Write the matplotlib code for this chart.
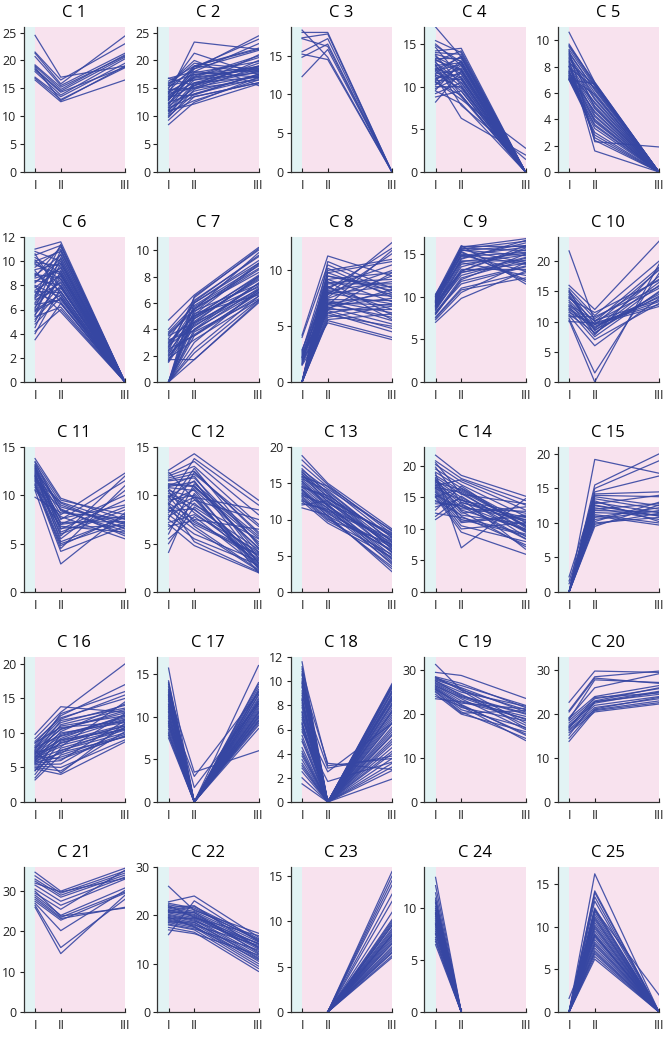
import numpy as np
import matplotlib
matplotlib.use("Agg")
import matplotlib.pyplot as plt

plt.rcParams['font.family'] = ['Open Sans', 'DejaVu Sans']

# stage positions on the x axis
stage_labels = ['I', 'II', 'III']
stage_x = [1, 2, 4.5]
nan = np.nan

# each tuple is one line: value at I, II, III
C1 = [(24.5, 17.0, 19.0), (21.5, 16.5, 23.0), (21.3, 15.8, 24.4), (20.7, 15.5, 21.3), (19.2, 15.2, 20.8),
      (19.0, 14.8, 21.0), (18.5, 14.5, 20.6), (18.3, 14.3, 18.8), (18.0, 13.8, 20.3), (17.0, 13.5, 19.5),
      (16.8, 13.0, 18.7), (16.5, 12.6, 16.5), (18.8, 12.8, 19.0)]
C2 = [(8.5, 12.5, 17.0), (9.3, 13.5, 16.0), (10.0, 14.0, 17.5), (10.5, 15.5, 18.0), (10.8, 12.8, 16.5),
      (11.0, 16.0, 19.0), (11.2, 14.5, 17.2), (11.5, 17.0, 18.5), (11.8, 15.0, 20.0), (12.0, 18.5, 21.8),
      (12.2, 16.5, 17.8), (12.5, 14.0, 16.8), (12.8, 19.0, 22.0), (13.0, 17.5, 18.2), (13.2, 15.5, 19.5),
      (13.5, 18.0, 23.0), (13.8, 16.0, 17.0), (14.0, 23.3, 22.0), (14.2, 17.0, 20.5), (14.5, 19.0, 18.0),
      (14.8, 15.0, 16.5), (15.0, 21.3, 17.5), (15.2, 18.5, 24.4), (15.5, 16.5, 19.0), (15.8, 20.0, 15.5),
      (16.0, 17.5, 18.8), (16.3, 19.0, 22.2), (16.8, 18.0, 17.0), (16.8, 15.5, 21.0), (11.5, 13.5, 16.0),
      (10.2, 15.8, 18.3), (12.3, 17.8, 19.8), (13.6, 13.8, 17.6), (14.4, 16.8, 18.6), (9.8, 14.8, 18.9),
      (12.9, 18.8, 23.8), (11.0, 12.2, 15.8), (13.3, 17.2, 20.8), (15.6, 19.5, 18.4), (14.1, 15.2, 17.3)]
C3 = [(18.3, 14.8, 0), (18.0, 18.0, 0), (17.3, 17.8, 0), (17.2, 16.2, 0), (15.5, 17.2, 0),
      (15.2, 14.5, 0), (14.8, 16.5, 0), (12.3, 15.8, 0)]
C4 = [(17.0, 13.5, 0), (15.4, 14.0, 0), (15.0, 12.5, 0), (14.2, 14.5, 0), (14.0, 13.8, 0), (13.8, 13.0, 0),
      (13.5, 12.0, 0), (13.2, 11.5, 0), (13.0, 14.2, 0), (12.8, 10.5, 0), (12.5, 12.8, 0), (12.2, 11.0, 0),
      (12.0, 13.5, 0), (11.8, 9.5, 0), (11.5, 12.0, 0), (11.3, 10.8, 0), (11.0, 11.5, 0), (10.8, 13.0, 0),
      (10.5, 9.0, 0), (10.3, 12.5, 0), (10.0, 10.0, 0), (9.8, 11.2, 0), (9.5, 8.0, 0), (9.2, 10.5, 0),
      (8.8, 9.5, 0), (8.2, 11.8, 0), (11.2, 6.3, 2.0), (10.6, 8.5, 2.8), (12.6, 7.8, 1.5), (13.7, 10.2, 0),
      (12.9, 9.0, 0), (11.6, 13.6, 0), (10.9, 12.2, 0), (14.6, 11.0, 0), (13.3, 13.3, 0), (12.4, 10.0, 0),
      (11.9, 12.6, 0), (10.2, 11.8, 0), (9.6, 12.9, 0), (13.1, 11.9, 0), (12.1, 8.8, 0), (11.4, 9.8, 0),
      (14.8, 12.9, 0), (10.7, 10.9, 0)]
C5 = [(10.6, 6.8, 0), (9.7, 6.7, 0), (9.5, 6.6, 0), (9.3, 6.5, 0), (9.0, 6.3, 0), (8.8, 6.0, 0),
      (8.6, 5.8, 0), (8.4, 5.5, 0), (8.2, 5.2, 0), (8.0, 5.0, 0), (7.8, 4.8, 0), (7.6, 4.5, 0),
      (7.5, 4.2, 0), (7.3, 4.0, 0), (7.2, 3.8, 0), (7.1, 3.5, 0), (7.0, 3.3, 0), (7.0, 3.0, 0),
      (7.4, 2.8, 0), (7.7, 2.6, 0), (8.1, 2.4, 0), (9.2, 2.3, 1.9), (8.5, 1.6, 0), (9.6, 6.8, 0),
      (7.0, 6.7, 0), (8.3, 6.6, 0), (7.9, 6.4, 0), (9.1, 6.2, 0), (7.2, 5.9, 0), (8.7, 5.6, 0),
      (7.5, 5.3, 0), (8.9, 4.9, 0), (7.3, 4.6, 0), (8.0, 4.3, 0), (7.6, 3.9, 0), (7.1, 3.6, 0)]
C6 = [(11.0, 11.6, 0), (10.8, 10.0, 0), (10.5, 11.3, 0), (10.3, 9.0, 0), (10.0, 10.8, 0), (9.8, 8.5, 0),
      (9.5, 11.0, 0), (9.3, 9.8, 0), (9.0, 7.5, 0), (8.8, 10.5, 0), (8.6, 9.2, 0), (8.4, 8.0, 0),
      (8.2, 10.2, 0), (8.0, 7.0, 0), (7.8, 9.5, 0), (7.6, 8.8, 0), (7.4, 6.5, 0), (7.2, 10.0, 0),
      (7.0, 8.2, 0), (6.8, 7.8, 0), (6.6, 9.0, 0), (6.4, 6.8, 0), (6.2, 8.5, 0), (6.0, 7.2, 0),
      (5.8, 9.8, 0), (5.6, 8.0, 0), (5.4, 6.2, 0), (5.2, 7.5, 0), (5.0, 8.8, 0), (4.8, 7.0, 0),
      (4.5, 9.2, 0), (4.2, 6.0, 0), (4.0, 7.8, 0), (3.5, 6.5, 0), (10.6, 7.2, 0), (9.2, 6.6, 0),
      (8.7, 11.2, 0), (7.9, 5.8, 0), (7.1, 11.4, 0), (6.9, 10.6, 0), (6.1, 10.9, 0), (5.5, 10.3, 0),
      (9.7, 8.9, 0), (8.3, 9.4, 0), (7.5, 7.4, 0), (6.5, 8.3, 0), (5.9, 6.9, 0), (9.9, 9.6, 0),
      (10.1, 7.9, 0), (8.9, 8.6, 0)]
C7 = [(0, 1.7, 6.0), (0, 2.5, 6.5), (0, 3.0, 7.0), (0, 3.5, 6.8), (0, 4.0, 7.5), (0, 4.5, 8.0),
      (0, 5.0, 7.2), (0, 5.5, 8.5), (0, 6.0, 9.0), (0, 3.8, 6.3), (0, 4.8, 7.8), (0, 5.2, 6.6),
      (0, 2.2, 6.2), (0, 6.5, 10.0), (4.7, 6.6, 10.2), (4.0, 6.2, 9.5), (3.8, 5.8, 8.8), (3.7, 5.5, 9.8),
      (3.5, 4.5, 7.0), (3.3, 6.0, 9.2), (3.0, 5.0, 8.0), (2.8, 4.2, 7.5), (2.6, 5.6, 8.3), (2.5, 3.5, 6.5),
      (2.3, 4.8, 7.7), (2.1, 5.3, 9.0), (2.0, 4.0, 6.8), (1.8, 3.2, 6.2), (1.6, 5.7, 8.6), (1.5, 4.4, 7.3),
      (1.7, 1.7, 6.1), (2.4, 6.4, 10.1), (3.2, 3.9, 7.1), (2.9, 5.1, 8.9), (1.9, 4.6, 7.9), (3.6, 5.4, 7.4),
      (2.2, 3.6, 6.7), (1.6, 4.9, 8.1), (2.7, 6.1, 9.6), (3.1, 4.3, 6.9)]
C8 = [(0, 5.5, 4.0), (0, 6.0, 5.0), (0, 6.5, 6.5), (0, 7.0, 8.0), (0, 7.5, 9.5), (0, 8.0, 7.0),
      (0, 8.5, 10.5), (0, 9.0, 6.0), (0, 9.5, 8.5), (0, 10.0, 11.0), (0, 7.2, 5.5), (0, 6.8, 7.5),
      (0, 8.2, 9.0), (0, 5.8, 6.8), (0, 9.8, 7.8), (0, 7.8, 12.5), (0, 6.2, 4.5), (0, 8.8, 8.8),
      (4.2, 11.3, 9.5), (4.0, 10.5, 8.0), (2.8, 9.2, 7.2), (2.6, 8.0, 10.0), (2.5, 7.0, 5.8), (2.3, 6.5, 9.8),
      (2.2, 8.5, 6.5), (2.0, 7.6, 11.5), (1.8, 6.2, 7.0), (1.6, 9.5, 8.2), (1.5, 5.3, 3.8), (1.7, 7.3, 6.2),
      (2.1, 8.9, 9.2), (2.4, 6.7, 5.2), (2.7, 10.2, 7.6), (1.9, 7.9, 8.6), (2.9, 8.3, 12.0), (1.6, 6.4, 4.8),
      (2.2, 9.8, 10.8), (0, 7.4, 7.3), (0, 8.6, 5.6), (0, 6.6, 8.3), (0, 9.2, 9.8), (0, 7.1, 6.9),
      (0, 8.1, 7.7), (0, 5.6, 6.1), (0, 10.8, 8.4), (0, 6.9, 11.8)]
C9 = [(7.0, 9.8, 13.0), (7.3, 10.5, 14.0), (7.6, 11.0, 12.8), (7.9, 12.0, 15.0), (8.2, 11.5, 13.5),
      (8.5, 13.0, 16.0), (8.7, 12.5, 14.5), (8.9, 14.0, 12.5), (9.1, 13.5, 15.5), (9.3, 14.5, 16.3),
      (9.5, 15.0, 13.8), (9.6, 15.5, 14.8), (9.8, 15.8, 16.8), (10.0, 14.8, 15.8), (10.2, 16.0, 11.5),
      (10.3, 15.2, 12.0), (9.4, 14.2, 14.2), (9.0, 15.6, 16.5), (8.8, 13.2, 13.2), (9.7, 14.7, 15.2),
      (8.4, 12.8, 14.6), (9.2, 15.9, 15.9), (8.0, 11.8, 13.6), (9.9, 15.4, 16.0), (8.6, 13.8, 14.9),
      (9.5, 14.9, 13.0), (10.1, 15.7, 15.4), (7.5, 10.8, 12.2), (9.3, 13.0, 15.7), (8.1, 12.2, 14.3),
      (9.6, 15.3, 11.8), (8.9, 14.4, 16.6), (9.0, 12.9, 13.9), (10.0, 14.1, 15.1), (9.4, 15.5, 14.0)]
C10 = [(21.7, 10.0, 19.0), (16.0, 12.0, 23.3), (15.5, 11.0, 20.0), (15.0, 10.5, 17.0), (14.8, 9.5, 18.5),
       (14.5, 8.5, 16.5), (14.0, 10.0, 15.5), (13.5, 9.0, 14.5), (13.2, 8.0, 16.0), (12.8, 10.2, 13.5),
       (12.5, 7.5, 15.0), (12.2, 9.2, 14.0), (12.0, 8.8, 17.5), (11.8, 7.0, 13.0), (11.5, 9.5, 12.5),
       (11.2, 8.2, 14.8), (11.0, 6.0, 13.8), (10.8, 10.8, 15.8), (10.5, 1.5, 18.0), (10.2, 0, 19.5),
       (10.0, 9.8, 12.8), (13.8, 11.5, 16.8), (14.2, 8.6, 14.2), (12.6, 9.6, 13.3), (15.2, 7.8, 18.8)]
C11 = [(13.8, 9.7, 7.5), (13.5, 9.5, 8.0), (13.2, 9.2, 6.5), (13.0, 8.8, 7.0), (12.8, 8.5, 6.0),
       (12.6, 8.0, 12.3), (12.4, 7.5, 11.5), (12.2, 7.0, 7.8), (12.0, 6.5, 9.5), (11.8, 6.0, 8.5),
       (11.6, 5.5, 10.5), (11.4, 5.0, 7.2), (11.2, 4.5, 11.0), (11.0, 4.2, 6.8), (10.8, 7.8, 5.5),
       (10.6, 6.8, 6.2), (10.5, 2.9, 8.2), (9.8, 8.2, 7.6), (12.5, 9.0, 6.6), (11.9, 7.2, 7.3),
       (12.9, 6.2, 8.8), (12.3, 5.2, 7.7), (11.5, 8.6, 5.8), (13.1, 7.0, 10.0), (12.7, 6.6, 6.9),
       (11.7, 9.3, 7.1), (12.1, 5.8, 12.0), (13.4, 8.4, 6.3), (11.1, 4.8, 7.9), (12.0, 7.6, 9.0)]
C12 = [(12.6, 14.3, 9.5), (12.2, 13.5, 8.0), (12.0, 13.0, 7.0), (11.8, 12.5, 6.0), (11.5, 11.8, 5.0),
       (11.2, 11.0, 4.5), (11.0, 12.0, 3.5), (10.8, 10.5, 2.5), (10.5, 9.8, 8.5), (10.2, 9.0, 5.5),
       (10.0, 8.5, 4.0), (9.8, 11.5, 3.0), (9.5, 10.0, 2.0), (9.2, 7.5, 6.5), (9.0, 12.8, 4.8),
       (8.8, 7.0, 3.8), (8.5, 6.5, 2.2), (8.2, 10.8, 5.2), (8.0, 6.0, 3.2), (7.8, 9.5, 7.5),
       (7.5, 5.5, 2.8), (7.2, 8.0, 4.2), (7.0, 4.8, 2.0), (6.5, 9.2, 3.6), (6.0, 11.2, 5.8),
       (5.5, 7.8, 2.6), (5.0, 8.8, 4.4), (4.1, 10.2, 3.0), (11.6, 12.2, 6.8), (10.7, 8.2, 3.4),
       (9.6, 13.8, 9.0), (9.3, 10.6, 4.6), (8.6, 9.8, 2.4), (10.4, 7.2, 3.9), (11.1, 10.9, 5.6),
       (8.4, 8.6, 2.9), (9.9, 6.8, 2.3), (7.6, 12.4, 6.2), (10.9, 11.4, 4.1), (6.8, 7.4, 3.3),
       (12.4, 9.6, 2.7), (9.1, 5.2, 2.1)]
C13 = [(18.8, 15.0, 8.7), (18.2, 14.8, 8.0), (17.5, 14.5, 7.5), (16.8, 14.2, 8.5), (16.5, 13.8, 7.0),
       (16.2, 13.5, 6.5), (16.0, 13.2, 6.0), (15.8, 12.8, 7.8), (15.5, 12.5, 5.5), (15.2, 12.2, 8.2),
       (15.0, 12.0, 5.0), (14.8, 11.8, 6.8), (14.5, 11.5, 4.5), (14.2, 11.2, 7.2), (14.0, 11.0, 4.0),
       (13.8, 10.8, 6.2), (13.5, 10.5, 5.8), (13.2, 10.2, 3.5), (13.0, 10.0, 6.6), (12.8, 9.8, 5.2),
       (12.5, 9.5, 4.8), (12.2, 11.4, 7.4), (12.0, 12.6, 6.4), (11.6, 10.6, 2.8), (16.6, 13.0, 5.4),
       (15.6, 14.0, 6.9), (14.6, 12.9, 7.9), (13.6, 11.6, 3.8), (17.0, 13.6, 5.9), (15.3, 11.9, 4.2),
       (14.4, 13.3, 7.6), (12.6, 11.1, 5.6), (16.3, 12.4, 6.3), (13.3, 12.1, 4.6), (15.9, 14.6, 8.4),
       (14.1, 10.4, 3.2)]
C14 = [(21.7, 18.5, 15.2), (20.8, 18.0, 14.5), (20.2, 17.5, 13.0), (19.5, 17.0, 12.0), (19.0, 16.5, 11.0),
       (18.5, 16.0, 10.5), (18.2, 15.5, 14.0), (17.8, 15.0, 9.5), (17.5, 14.5, 12.5), (17.2, 14.0, 8.5),
       (17.0, 13.5, 11.5), (16.8, 13.0, 10.0), (16.5, 12.5, 13.5), (16.2, 12.0, 7.5), (16.0, 11.5, 9.0),
       (15.8, 11.0, 12.0), (15.5, 10.5, 8.0), (15.2, 10.0, 11.0), (15.0, 9.5, 6.0), (14.5, 12.2, 10.8),
       (14.0, 13.8, 9.8), (13.5, 14.8, 6.8), (13.0, 16.8, 10.2), (12.5, 11.8, 9.2), (12.0, 15.2, 8.8),
       (11.5, 14.2, 11.8), (18.8, 7.0, 14.8), (17.4, 16.2, 10.6), (16.6, 15.8, 9.6), (15.4, 13.2, 12.8),
       (19.8, 14.2, 11.2), (18.0, 12.8, 7.2), (16.9, 17.8, 13.8), (15.1, 16.4, 10.4), (14.3, 13.6, 8.4),
       (20.5, 15.6, 9.9), (17.7, 11.2, 12.2), (16.4, 14.6, 11.4)]
C15 = [(0, 19.2, 17.2), (0, 15.5, 20.0), (0, 15.0, 19.0), (0, 14.5, 16.8), (0, 14.2, 14.5),
       (0, 13.8, 12.5), (0, 13.5, 12.0), (0, 13.0, 11.5), (0, 12.8, 14.0), (0, 12.5, 11.0),
       (0, 12.2, 10.5), (0, 12.0, 12.8), (0, 11.5, 11.2), (0, 11.2, 10.0), (0, 11.0, 9.7),
       (0, 10.8, 12.2), (0, 10.5, 11.8), (0, 10.0, 10.8), (0, 9.8, 11.4), (0, 9.5, 12.6),
       (2.2, 14.0, 13.8), (1.6, 12.6, 11.0), (1.2, 10.2, 13.0), (0, 13.2, 10.2), (0, 11.8, 11.6)]
C16 = [(9.8, 13.8, 13.0), (9.2, 13.0, 20.0), (8.5, 12.5, 17.0), (8.2, 12.0, 15.5), (8.0, 11.5, 14.0),
       (7.8, 11.0, 12.5), (7.5, 10.5, 13.2), (7.2, 10.0, 11.5), (7.0, 9.5, 12.0), (6.8, 9.0, 10.5),
       (6.6, 8.5, 11.0), (6.4, 8.0, 14.5), (6.2, 7.5, 10.0), (6.0, 7.0, 12.8), (5.8, 6.5, 9.5),
       (5.6, 6.0, 11.8), (5.4, 5.5, 10.8), (5.2, 5.0, 9.0), (5.0, 4.5, 10.2), (4.8, 4.0, 8.7),
       (4.5, 9.8, 12.2), (4.0, 8.8, 11.2), (3.5, 7.8, 10.4), (3.2, 6.8, 9.8), (7.6, 12.8, 16.0),
       (6.9, 11.8, 13.6), (7.4, 4.2, 11.4), (6.5, 9.2, 12.6), (5.9, 10.2, 14.2), (7.1, 8.2, 10.6),
       (8.6, 10.8, 11.6), (5.5, 7.2, 9.4), (6.3, 11.2, 13.4), (7.9, 9.6, 12.4), (5.7, 8.6, 11.0),
       (6.7, 6.2, 9.6), (8.8, 12.2, 15.0), (4.6, 7.4, 10.8), (7.3, 10.6, 12.9), (6.1, 9.0, 11.9)]
C17 = [(15.7, 0, 16.0), (14.2, 0, 14.0), (13.8, 0, 13.5), (13.2, 0, 13.0), (12.8, 0, 12.5), (12.5, 0, 12.0),
       (12.2, 0, 11.5), (12.0, 0, 11.0), (11.5, 0, 10.5), (11.2, 0, 10.0), (11.0, 0, 9.5), (10.5, 0, 9.0),
       (10.2, 0, 8.6), (10.0, 0, 10.2), (9.5, 0, 11.2), (9.2, 0, 12.2), (9.0, 0, 9.8), (8.5, 0, 13.8),
       (8.2, 0, 10.8), (8.0, 0, 11.8), (7.8, 0, 9.2), (7.5, 0, 10.4), (13.0, 3.5, 6.0), (10.8, 3.0, 12.8),
       (12.6, 1.7, 11.6), (9.8, 0, 9.6), (11.8, 0, 12.6), (14.0, 0, 10.6), (8.8, 0, 13.2), (10.6, 0, 11.4),
       (12.4, 0, 9.4), (9.4, 0, 10.0), (11.4, 0, 12.9), (13.5, 0, 11.8)]
C18 = [(11.6, 0, 9.8), (11.2, 0, 9.6), (10.8, 0, 9.4), (10.5, 0, 9.2), (10.2, 0, 9.0), (9.8, 0, 8.8),
       (9.5, 0, 8.5), (9.2, 0, 8.2), (9.0, 0, 8.0), (8.5, 0, 7.8), (8.2, 0, 7.5), (8.0, 0, 7.2),
       (7.5, 0, 7.0), (7.2, 0, 6.8), (7.0, 0, 6.5), (6.5, 0, 6.2), (6.2, 0, 6.0), (6.0, 0, 5.5),
       (5.5, 0, 5.2), (5.0, 0, 5.0), (4.5, 0, 4.5), (4.0, 0, 4.2), (3.8, 0, 4.0), (3.5, 0, 3.6),
       (3.0, 0, 3.2), (2.5, 0, 2.9), (2.0, 0, 2.6), (1.5, 0, 1.9), (10.0, 3.2, 2.7), (8.8, 2.8, 3.8),
       (6.8, 2.5, 6.5), (5.8, 1.7, 3.3), (11.0, 3.0, 3.6), (10.6, 0, 9.7), (9.6, 0, 8.6), (8.6, 0, 8.4),
       (7.8, 0, 7.6), (6.6, 0, 7.4), (5.2, 0, 6.6), (4.2, 0, 5.8), (3.2, 0, 4.8), (9.9, 0, 9.5),
       (8.4, 0, 9.1), (7.4, 0, 8.7), (6.4, 0, 8.1), (2.8, 0, 5.6)]
C19 = [(31.3, 25.5, 21.0), (29.5, 28.8, 23.6), (28.5, 27.0, 21.5), (28.2, 26.5, 22.0), (28.0, 26.0, 20.5),
       (27.8, 25.8, 18.0), (27.5, 25.0, 21.8), (27.2, 24.5, 17.5), (27.0, 24.0, 20.0), (26.8, 23.5, 16.5),
       (26.5, 23.0, 19.5), (26.2, 22.5, 21.2), (26.0, 22.0, 15.5), (25.8, 21.5, 18.5), (25.5, 21.0, 17.0),
       (25.2, 20.5, 14.5), (25.0, 20.2, 20.8), (24.5, 20.0, 16.0), (24.0, 21.8, 14.0), (23.5, 22.8, 19.0),
       (27.6, 24.2, 20.2), (26.4, 23.8, 18.8), (28.4, 25.4, 16.8), (25.6, 22.2, 15.2)]
C20 = [(22.7, 29.8, 29.5), (20.8, 28.5, 29.8), (20.5, 28.2, 27.0), (19.2, 26.0, 29.2), (19.0, 24.0, 26.5),
       (18.5, 23.5, 25.8), (18.0, 23.0, 26.0), (17.5, 22.5, 25.0), (17.2, 22.8, 24.5), (17.0, 22.0, 24.0),
       (16.5, 21.5, 23.5), (16.2, 21.0, 23.0), (15.8, 20.5, 22.3), (15.2, 22.8, 25.2), (14.5, 21.2, 23.8),
       (13.8, 20.8, 22.6), (18.8, 27.8, 27.2), (16.8, 23.8, 24.8)]
C21 = [(34.7, 30.0, 35.7), (33.8, 29.5, 35.0), (33.0, 29.0, 34.5), (32.5, 28.5, 34.0), (31.5, 27.5, 33.5),
       (30.5, 26.5, 33.0), (29.5, 25.5, 35.2), (29.0, 24.0, 30.8), (28.5, 23.5, 29.8), (28.0, 23.2, 26.0),
       (27.5, 22.8, 29.5), (27.0, 20.2, 30.2), (26.5, 16.0, 28.0), (26.0, 14.5, 29.0), (30.0, 23.8, 25.8),
       (32.0, 29.8, 33.2)]
C22 = [(26.0, 21.0, 16.3), (22.8, 24.0, 15.5), (22.5, 21.5, 14.8), (22.2, 21.2, 15.0), (21.8, 20.8, 14.5),
       (21.5, 20.5, 14.0), (21.2, 20.2, 13.5), (21.0, 20.0, 13.0), (20.8, 19.8, 12.5), (20.5, 19.5, 15.8),
       (20.2, 19.2, 12.0), (20.0, 19.0, 11.5), (19.8, 18.8, 14.2), (19.5, 18.5, 11.0), (19.2, 18.2, 10.5),
       (19.0, 18.0, 13.8), (18.8, 17.8, 10.0), (18.5, 17.5, 9.5), (18.2, 17.2, 12.8), (18.0, 17.0, 9.0),
       (17.5, 16.5, 8.4), (16.0, 23.0, 14.6), (17.0, 16.2, 11.8), (21.6, 22.0, 13.2), (20.6, 20.6, 12.2),
       (19.6, 17.6, 10.8), (22.0, 19.6, 14.2), (18.6, 18.6, 11.2), (20.9, 21.8, 15.2), (19.4, 19.4, 13.4)]
C23 = [(nan, 0, 15.5), (nan, 0, 15.0), (nan, 0, 14.5), (nan, 0, 14.0), (nan, 0, 13.0), (nan, 0, 12.2),
       (nan, 0, 11.0), (nan, 0, 10.2), (nan, 0, 9.8), (nan, 0, 9.5), (nan, 0, 9.2), (nan, 0, 9.0),
       (nan, 0, 8.8), (nan, 0, 8.5), (nan, 0, 8.2), (nan, 0, 8.0), (nan, 0, 7.8), (nan, 0, 7.5),
       (nan, 0, 7.2), (nan, 0, 7.0), (nan, 0, 6.8), (nan, 0, 6.5), (nan, 0, 6.2), (nan, 0, 6.0),
       (nan, 0, 9.6), (nan, 0, 8.6), (nan, 0, 7.6), (nan, 0, 6.6), (nan, 0, 10.0), (nan, 0, 8.4)]
C24 = [(13.0, 0, nan), (12.2, 0, nan), (11.5, 0, nan), (11.0, 0, nan), (10.8, 0, nan), (10.5, 0, nan),
       (10.2, 0, nan), (10.0, 0, nan), (9.8, 0, nan), (9.5, 0, nan), (9.2, 0, nan), (9.0, 0, nan),
       (8.8, 0, nan), (8.5, 0, nan), (8.2, 0, nan), (8.0, 0, nan), (7.8, 0, nan), (7.5, 0, nan),
       (7.2, 0, nan), (7.0, 0, nan), (6.8, 0, nan), (6.5, 0, nan), (9.6, 0, nan), (8.6, 0, nan),
       (7.6, 0, nan), (10.6, 0, nan), (9.4, 0, nan), (8.4, 0, nan)]
C25 = [(0, 16.2, 0), (0, 14.2, 0), (0, 14.0, 0), (0, 13.5, 0), (0, 13.0, 0), (0, 12.2, 0), (0, 12.0, 0),
       (0, 11.8, 0), (0, 11.5, 0), (0, 11.2, 0), (0, 11.0, 0), (0, 10.8, 0), (0, 10.5, 0), (0, 10.2, 0),
       (0, 10.0, 0), (0, 9.8, 0), (0, 9.5, 0), (0, 9.2, 0), (0, 9.0, 0), (0, 8.8, 0), (0, 8.5, 0),
       (0, 8.2, 0), (0, 8.0, 0), (0, 7.8, 0), (0, 7.5, 0), (0, 7.2, 0), (0, 7.0, 0), (0, 6.8, 0),
       (0, 6.5, 0), (0, 6.2, 0), (1.6, 9.0, 0), (0, 12.0, 2.0)]

panels = [C1, C2, C3, C4, C5, C6, C7, C8, C9, C10, C11, C12, C13, C14, C15,
          C16, C17, C18, C19, C20, C21, C22, C23, C24, C25]

# y-axis top and tick step per panel
y_top = [26, 26, 18.7, 17, 11, 12, 11, 13, 17, 24, 15, 15, 20, 23, 21,
         21, 17, 12, 33, 33, 36, 30, 16, 14, 17]
y_step = [5, 5, 5, 5, 2, 2, 2, 5, 5, 5, 5, 5, 5, 5, 5,
          5, 5, 2, 10, 10, 10, 10, 5, 5, 5]

line_color = '#3646a2'
W, H = 670, 1038
fig = plt.figure(figsize=(W / 100, H / 100), dpi=100)

col_left = [23.5, 157, 290.5, 424, 557.5]
ax_w, ax_h = 101.5, 145

for i, data in enumerate(panels):
    r, c = divmod(i, 5)
    zero_y = 172 + 210 * r
    ax = fig.add_axes([col_left[c] / W, 1 - zero_y / H, ax_w / W, ax_h / H])
    ax.set_xlim(0.55, stage_x[-1])
    ax.set_ylim(0, y_top[i])
    ax.axvspan(0.55, stage_x[0], color='#e2f3f4', lw=0, zorder=0)
    ax.axvspan(stage_x[0], stage_x[-1], color='#f8e2ee', lw=0, zorder=0)
    for row in data:
        ax.plot(stage_x, row, color=line_color, lw=0.9, alpha=0.9, zorder=2)
    ax.set_xticks(stage_x)
    ax.set_xticklabels(stage_labels)
    ax.set_yticks(np.arange(0, y_top[i] + 0.01, y_step[i]))
    ax.set_title(f'C {i + 1}', fontsize=12, pad=7)
    for s in ['top', 'right']:
        ax.spines[s].set_visible(False)
    for s in ['left', 'bottom']:
        ax.spines[s].set_color('#333333')
        ax.spines[s].set_linewidth(0.9)
    ax.tick_params(axis='y', direction='out', length=3, width=0.8, pad=2, labelsize=9, colors='#222222')
    ax.tick_params(axis='x', direction='in', length=3, width=0.8, pad=5, labelsize=9, colors='#222222')

fig.savefig('out.png', dpi=100)
